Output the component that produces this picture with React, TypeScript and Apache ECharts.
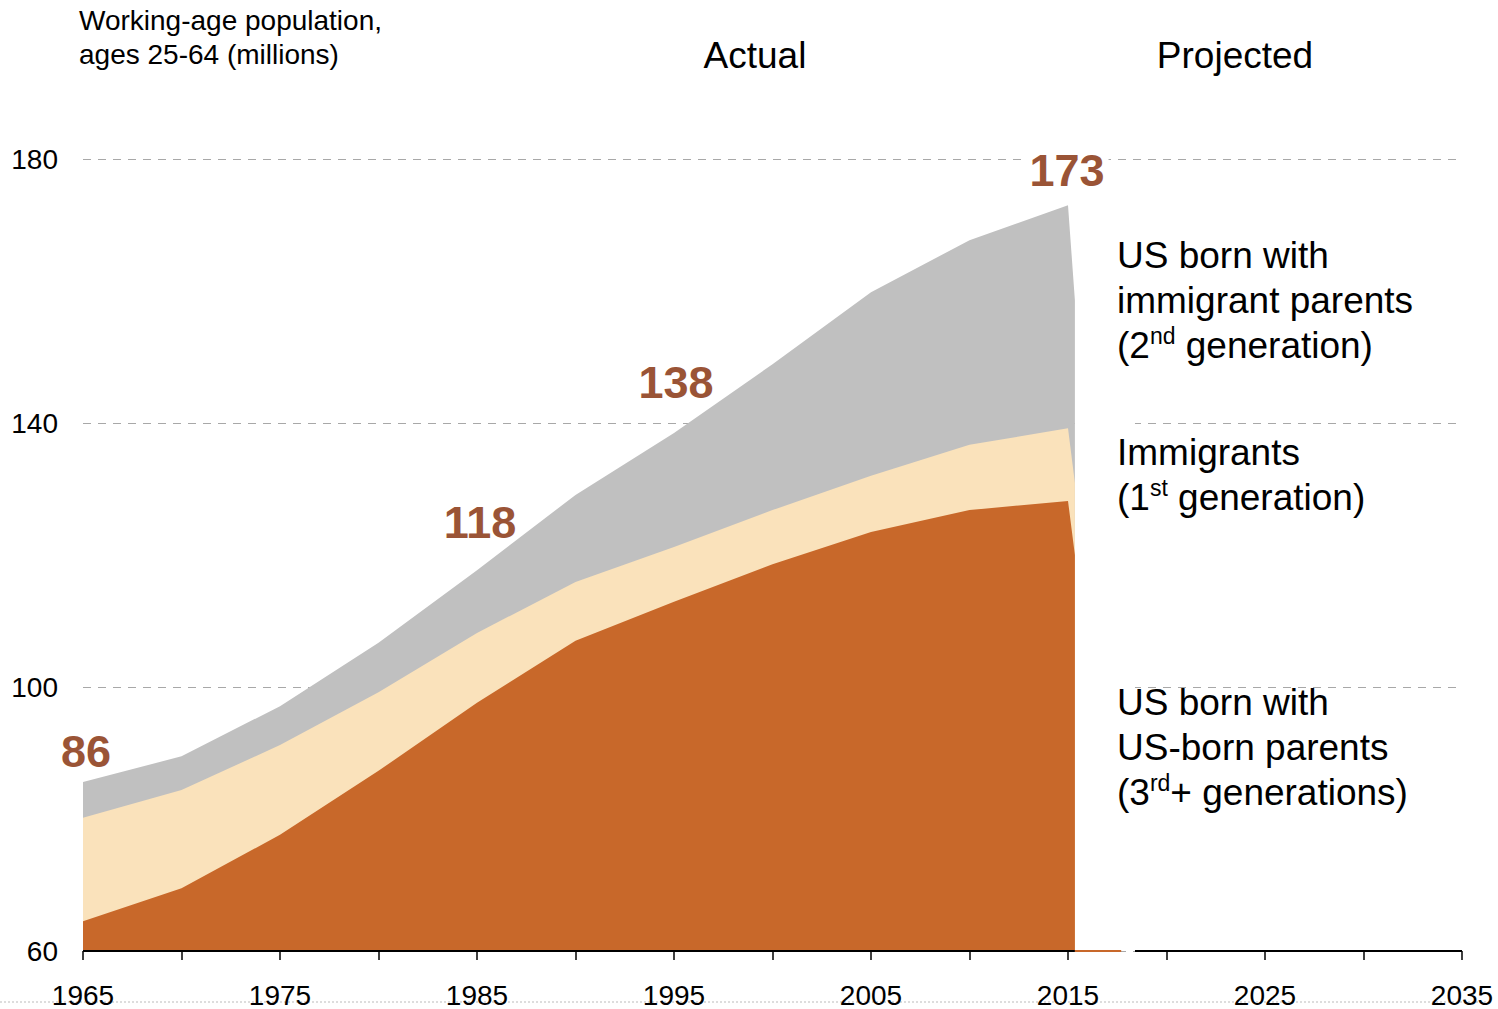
import { useEffect, useRef } from "react";
import * as echarts from "echarts";

// ---- data (millions, ages 25-64) ----
const years = [1965, 1970, 1975, 1980, 1985, 1990, 1995, 2000, 2005, 2010, 2015, 2015.35];
const thirdPlusGen = [64.5, 69.5, 77.6, 87.3, 97.6, 107.0, 112.9, 118.6, 123.5, 126.8, 128.2, 120.0];
const firstGen = [15.7, 14.9, 13.6, 11.9, 10.6, 8.9, 8.3, 8.2, 8.5, 9.9, 11.0, 10.9];
const secondGen = [5.4, 5.1, 5.9, 7.5, 9.5, 13.2, 17.3, 22.1, 27.8, 31.0, 33.8, 27.7];
const labeledYears = [1965, 1985, 1995, 2015];
const labeledTotals = ["86", "118", "138", "173"];
const yTicks = [60, 100, 140, 180];
const xMin = 1965;
const xMax = 2035;
const xStep = 5;
const baselineGapStart = 2015.35;
const baselineGapOrangeEnd = 2017.7;
const baselineResume = 2018.4;

const FONT = "'Liberation Sans', Arial, sans-serif";
const ORANGE = "#C8682A";
const BEIGE = "#FAE2BB";
const GREY = "#C0C0C0";
const BROWN = "#9A5436";

export default function App() {
  const ref = useRef<HTMLDivElement>(null);

  useEffect(() => {
    if (!ref.current) return;
    const chart = echarts.init(ref.current, null, { renderer: "svg" });

    // cumulative layers (drawn back to front, each filled down to the axis)
    const cumFirst = thirdPlusGen.map((v, i) => v + firstGen[i]);
    const cumTotal = cumFirst.map((v, i) => v + secondGen[i]);

    const totalAt = (yr: number) => cumTotal[years.indexOf(yr)];
    const labelOffsets: Record<number, number[]> = {
      1965: [3, -31],
      1985: [3, -48],
      1995: [2, -50],
      2015: [-1, -35],
    };

    const areaSeries = (name: string, vals: number[], color: string, z: number, extra: any = {}) => ({
      type: "line",
      name,
      data: years.map((y, i) => [y, vals[i]]),
      symbol: "none",
      lineStyle: { width: 0, opacity: 0 },
      areaStyle: { color, opacity: 1, origin: "start" },
      silent: true,
      z,
      ...extra,
    });

    const rightText = (text: string, top: number) => ({
      type: "text",
      left: 1117,
      top,
      z: 100,
      silent: true,
      style: {
        text,
        fill: "#000",
        fontSize: 37,
        fontFamily: FONT,
        lineHeight: 45,
        rich: {
          sup: { fontSize: 23, fontFamily: FONT, fill: "#000", padding: [0, 0, 20, 0] },
        },
      },
    });

    chart.setOption({
      animation: false,
      backgroundColor: "#fff",
      grid: { left: 83, right: 36, top: 159, bottom: 58, containLabel: false },
      xAxis: {
        type: "value",
        min: xMin,
        max: xMax,
        interval: xStep,
        axisLine: { show: false },
        axisTick: { show: true, length: 9, lineStyle: { color: "#000", width: 1.5 } },
        splitLine: { show: false },
        axisLabel: {
          margin: 30,
          fontSize: 28,
          fontFamily: FONT,
          color: "#000",
          formatter: (v: number) => ((v - xMin) % 10 === 0 ? String(v) : ""),
        },
      },
      yAxis: {
        type: "value",
        min: yTicks[0],
        max: yTicks[yTicks.length - 1],
        axisLine: { show: false },
        axisTick: { show: false, customValues: yTicks },
        axisLabel: {
          customValues: yTicks,
          margin: 25,
          fontSize: 28,
          fontFamily: FONT,
          color: "#000",
        },
        splitLine: {
          show: true,
          lineStyle: { color: "#A8A8A8", width: 1, type: [8, 7] },
        },
      },
      series: [
        areaSeries("US born with immigrant parents", cumTotal, GREY, 2, {
          markLine: {
            silent: true,
            symbol: "none",
            label: { show: false },
            z: 4,
            data: [
              [
                { coord: [xMin, yTicks[0]], lineStyle: { color: "#000", width: 2, type: "solid" } },
                { coord: [baselineGapStart, yTicks[0]] },
              ],
              [
                { coord: [baselineGapStart, yTicks[0]], lineStyle: { color: ORANGE, width: 2, type: "solid" } },
                { coord: [baselineGapOrangeEnd, yTicks[0]] },
              ],
              [
                { coord: [baselineResume, yTicks[0]], lineStyle: { color: "#000", width: 2, type: "solid" } },
                { coord: [xMax, yTicks[0]] },
              ],
            ],
          },
          markArea: {
            silent: true,
            itemStyle: { color: "#fff", opacity: 1 },
            data: [[{ coord: [baselineGapStart, 61] }, { coord: [baselineResume, 170] }]],
          },
        }),
        areaSeries("Immigrants", cumFirst, BEIGE, 3),
        areaSeries("US born with US-born parents", thirdPlusGen, ORANGE, 3.5),
        {
          type: "scatter",
          silent: true,
          symbolSize: 0,
          z: 5,
          itemStyle: { opacity: 1 },
          data: labeledYears.map((y, i) => ({
            value: [y, totalAt(y)],
            label: {
              offset: labelOffsets[y],
              ...(y === 2015 ? { backgroundColor: "#fff", padding: [0, 4] } : {}),
            },
          })),
          label: {
            show: true,
            position: "inside",
            opacity: 1,
            formatter: (p: any) => labeledTotals[p.dataIndex],
            fontSize: 45,
            fontWeight: "bold",
            fontFamily: FONT,
            color: BROWN,
          },
        },
      ],
      graphic: [
        {
          type: "text",
          left: 79,
          top: 3,
          z: 100,
          silent: true,
          style: {
            text: "Working-age population,\nages 25-64 (millions)",
            fill: "#000",
            fontSize: 28,
            fontFamily: FONT,
            lineHeight: 34,
          },
        },
        {
          type: "text",
          x: 755,
          y: 55,
          z: 100,
          silent: true,
          style: { text: "Actual", fill: "#000", fontSize: 37, fontFamily: FONT, align: "center", verticalAlign: "middle" },
        },
        {
          type: "text",
          x: 1235,
          y: 55,
          z: 100,
          silent: true,
          style: { text: "Projected", fill: "#000", fontSize: 37, fontFamily: FONT, align: "center", verticalAlign: "middle" },
        },
        rightText("US born with\nimmigrant parents\n(2{sup|nd} generation)", 233),
        rightText("Immigrants\n(1{sup|st} generation)", 430),
        rightText("US born with\nUS-born parents\n(3{sup|rd}+ generations)", 680),
        {
          type: "line",
          silent: true,
          shape: { x1: 0, y1: 1002, x2: 1490, y2: 1002 },
          style: { stroke: "#BBBBBB", lineWidth: 1, lineDash: [2, 2] },
          z: -1,
        },
      ],
    });

    return () => chart.dispose();
  }, []);

  return (
    <div
      ref={ref}
      style={{ position: "fixed", left: 0, top: 0, width: 1498, height: 1009 }}
    />
  );
}
